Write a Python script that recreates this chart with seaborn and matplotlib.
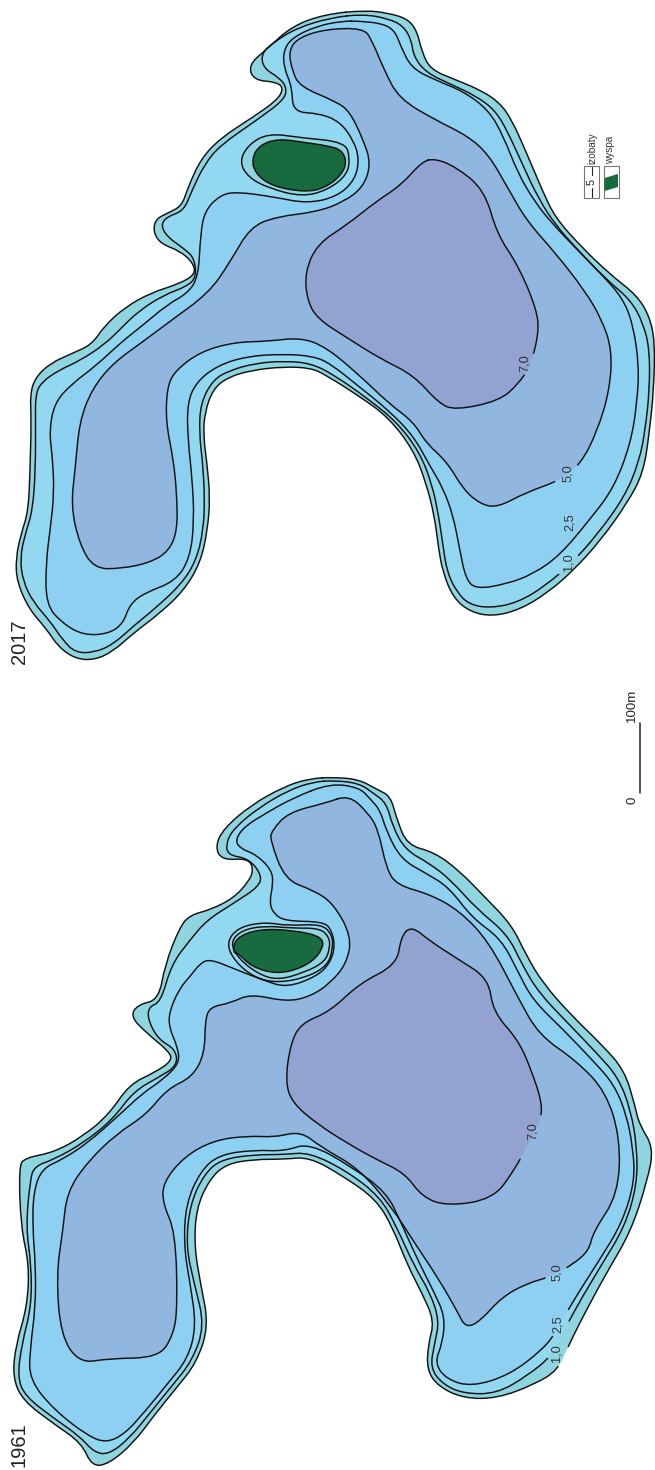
import numpy as np
import matplotlib.pyplot as plt
import seaborn as sns
from matplotlib.path import Path
from matplotlib.patches import PathPatch, Rectangle

# ==========================================
# Contours (crop units)
# ==========================================

SHORE_2017 = [(875,22),(930,28),(975,40),(998,65),(1010,110),(1030,148),(1090,170),(1150,192),(1195,218),(1225,255),(1260,325),(1300,410),(1330,465),(1390,525),(1460,585),(1525,630),(1555,675),(1568,730),(1565,830),(1555,920),(1540,1010),(1500,1075),(1440,1150),(1375,1215),(1310,1265),(1245,1300),(1180,1315),(1125,1305),(1085,1275),(1060,1220),(1050,1170),(1040,1100),(1020,1030),(990,960),(930,890),(860,845),(780,800),(745,785),(680,782),(600,790),(545,805),(510,830),(490,880),(487,930),(495,985),(503,1060),(497,1130),(480,1200),(440,1260),(380,1310),(320,1350),(270,1390),(225,1408),(180,1405),(140,1380),(110,1340),(70,1300),(40,1240),(38,1190),(50,1140),(68,1090),(72,1000),(75,900),(72,840),(85,805),(120,775),(170,755),(220,735),(250,695),(300,655),(360,625),(430,605),(468,585),(462,560),(430,535),(385,520),(367,495),(372,468),(400,455),(435,440),(450,400),(480,340),(527,295),(607,249),(663,214),(679,189),(663,175),(607,171),(595,139),(635,107),(700,55),(780,30)]
D10_2017 = [(870,30),(930,40),(965,55),(985,85),(990,120),(1020,155),(1080,180),(1140,205),(1185,235),(1215,280),(1250,350),(1290,425),(1330,480),(1385,535),(1450,595),(1510,640),(1540,690),(1555,745),(1555,830),(1545,915),(1530,985),(1495,1060),(1430,1140),(1370,1200),(1305,1250),(1240,1285),(1175,1297),(1125,1290),(1095,1265),(1070,1220),(1060,1160),(1050,1100),(1035,1035),(1005,965),(950,900),(880,850),(800,800),(745,775),(680,770),(610,775),(550,790),(510,810),(480,860),(477,925),(485,985),(490,1060),(487,1130),(470,1195),(435,1245),(375,1295),(320,1335),(270,1375),(225,1392),(180,1392),(150,1365),(120,1325),(80,1285),(55,1240),(48,1190),(60,1140),(78,1090),(85,1000),(85,900),(85,840),(100,815),(140,790),(190,770),(250,735),(290,700),(330,665),(390,630),(450,610),(470,590),(465,550),(440,530),(400,505),(385,480),(400,462),(440,450),(460,405),(490,350),(527,310),(615,256),(679,214),(687,189),(671,167),(631,146),(625,115),(655,90),(710,60),(790,38)]
D25_2017 = [(860,45),(915,50),(945,65),(960,100),(985,145),(1040,170),(1110,195),(1170,235),(1205,290),(1240,370),(1280,430),(1320,475),(1390,540),(1440,585),(1490,635),(1515,690),(1530,780),(1525,860),(1510,945),(1470,1040),(1415,1105),(1340,1185),(1275,1225),(1215,1245),(1140,1257),(1115,1235),(1100,1170),(1085,1100),(1060,1040),(1030,995),(990,930),(930,875),(860,825),(790,775),(750,760),(680,755),(590,760),(520,780),(470,815),(448,860),(450,940),(460,1020),(465,1110),(455,1190),(420,1240),(345,1265),(310,1290),(295,1330),(260,1352),(200,1355),(150,1330),(110,1290),(110,1200),(120,1130),(130,1050),(125,970),(118,920),(130,860),(170,820),(230,780),(290,730),(340,695),(400,650),(450,625),(475,590),(480,500),(490,450),(527,416),(567,409),(655,420),(734,434),(806,420),(850,384),(860,338),(846,299),(814,260),(766,242),(701,239),(699,185),(679,143),(679,107),(700,80),(760,55),(820,45)]
D50_2017 = [(870,60),(890,85),(920,150),(955,210),(1040,255),(1120,290),(1170,330),(1215,400),(1260,470),(1330,540),(1400,620),(1440,680),(1465,745),(1460,830),(1430,920),(1390,990),(1340,1025),(1260,1050),(1190,1083),(1150,1075),(1110,1045),(1070,985),(1020,945),(990,900),(930,860),(860,800),(780,740),(720,720),(640,728),(560,730),(480,750),(420,790),(400,825),(397,900),(415,980),(423,1050),(425,1130),(405,1175),(360,1200),(290,1213),(225,1213),(190,1160),(170,1080),(180,1000),(190,900),(220,830),(270,775),(340,730),(400,690),(500,625),(550,560),(599,484),(663,462),(758,452),(822,431),(870,399),(888,349),(870,299),(838,239),(806,217),(718,185),(699,150),(691,107),(715,80),(780,62)]
D70_2017 = [(1040,338),(1090,355),(1160,405),(1190,500),(1240,565),(1285,660),(1290,710),(1270,780),(1240,820),(1195,855),(1090,875),(1050,860),(990,800),(910,765),(830,720),(760,680),(735,640),(730,580),(760,520),(830,480),(900,430),(960,395),(1010,345)]
RING_2017 = [(573,345),(594,309),(642,284),(723,294),(826,303),(838,337),(831,373),(785,405),(723,420),(642,401),(594,378)]
ISLAND_2017 = [(603,337),(622,309),(666,296),(723,303),(785,311),(818,320),(830,345),(818,373),(778,401),(730,410),(650,397),(610,369)]

SHORE_1961 = [(800,90),(860,95),(900,115),(935,130),(950,180),(975,235),(1040,250),(1100,290),(1160,345),(1225,405),(1260,470),(1300,530),(1370,600),(1440,660),(1495,715),(1520,790),(1530,830),(1565,880),(1550,950),(1510,1060),(1450,1150),(1390,1250),(1360,1305),(1335,1355),(1280,1385),(1190,1415),(1110,1415),(1050,1390),(1022,1355),(1025,1300),(1040,1250),(1010,1190),(975,1130),(940,1050),(900,990),(820,940),(740,900),(680,905),(610,905),(540,915),(500,950),(470,1010),(465,1090),(480,1170),(500,1260),(470,1340),(420,1395),(370,1450),(320,1510),(260,1555),(220,1560),(195,1510),(130,1470),(55,1420),(30,1370),(38,1300),(65,1220),(70,1130),(50,1050),(45,920),(60,902),(130,890),(200,855),(260,810),(310,745),(370,720),(412,695),(405,675),(350,635),(312,600),(330,575),(380,565),(395,490),(430,410),(455,384),(503,373),(559,348),(595,313),(607,288),(595,263),(531,267),(515,238),(535,200),(600,150),(680,110),(740,93)]
D10_1961 = [(800,97),(860,103),(895,125),(925,145),(940,195),(970,245),(1030,275),(1080,310),(1140,370),(1215,425),(1250,490),(1290,550),(1360,615),(1430,680),(1480,730),(1510,800),(1525,880),(1525,960),(1495,1050),(1440,1130),(1380,1220),(1345,1280),(1320,1325),(1265,1365),(1190,1405),(1110,1405),(1060,1385),(1030,1350),(1040,1300),(1052,1250),(1030,1190),(990,1130),(950,1050),(910,985),(830,930),(740,890),(680,895),(610,895),(530,905),(490,935),(455,1000),(445,1090),(465,1170),(490,1260),(460,1335),(410,1390),(360,1445),(310,1500),(260,1535),(225,1530),(190,1495),(125,1455),(60,1410),(42,1370),(52,1300),(75,1220),(75,1130),(62,1050),(72,950),(82,920),(130,905),(200,870),(270,820),(320,760),(380,730),(425,705),(420,670),(380,650),(355,610),(355,580),(385,570),(410,490),(455,437),(495,395),(559,359),(619,324),(627,299),(595,263),(543,256),(543,224),(565,195),(620,155),(690,118),(750,100)]
D25_1961 = [(790,103),(860,112),(885,135),(910,160),(925,205),(960,265),(1020,295),(1075,325),(1130,390),(1200,435),(1240,505),(1275,565),(1350,630),(1420,695),(1470,745),(1500,810),(1515,880),(1520,950),(1490,1040),(1435,1120),(1370,1210),(1330,1275),(1300,1310),(1220,1365),(1130,1390),(1070,1375),(1040,1340),(1060,1295),(1065,1240),(1040,1190),(1000,1120),(960,1040),(925,975),(840,920),(740,870),(680,888),(610,885),(525,895),(480,930),(445,1000),(440,1090),(455,1170),(470,1260),(450,1330),(400,1385),(350,1440),(300,1490),(255,1510),(210,1495),(130,1440),(70,1375),(72,1310),(85,1220),(85,1130),(78,1050),(80,975),(100,925),(150,905),(210,870),(280,815),(340,765),(390,735),(430,700),(425,665),(405,625),(405,590),(430,540),(455,515),(479,487),(503,478),(559,498),(630,523),(686,539),(758,515),(790,487),(802,451),(794,416),(774,398),(682,397),(654,380),(645,356),(654,316),(650,288),(615,256),(575,242),(563,224),(585,195),(640,165),(700,135)]
D50_1961 = [(835,128),(880,165),(905,200),(925,285),(950,320),(1030,340),(1100,375),(1170,440),(1240,560),(1290,640),(1380,695),(1450,760),(1485,860),(1480,980),(1420,1060),(1410,1100),(1370,1130),(1320,1155),(1260,1170),(1200,1200),(1150,1250),(1115,1265),(1095,1230),(1050,1160),(990,1080),(940,1010),(860,925),(770,880),(720,845),(660,858),(590,855),(510,865),(440,900),(390,955),(390,1000),(420,1060),(425,1220),(415,1280),(380,1328),(260,1330),(190,1340),(145,1280),(135,1150),(150,1060),(160,975),(210,910),(280,850),(350,810),(400,755),(460,730),(490,680),(491,608),(503,580),(551,572),(599,552),(686,569),(742,558),(790,530),(830,487),(842,430),(798,359),(750,331),(682,309),(647,224),(650,205),(690,165),(780,145)]
D70_1961 = [(985,407),(1030,440),(1100,480),(1170,520),(1180,590),(1240,650),(1270,710),(1300,790),(1290,830),(1260,880),(1230,930),(1180,990),(1070,1005),(1010,985),(970,935),(900,905),(830,870),(760,830),(700,785),(683,740),(695,660),(720,615),(790,590),(860,530),(950,490),(960,430)]
RING_OUT_1961 = [(541,444),(570,410),(634,399),(689,407),(771,403),(795,427),(797,454),(785,491),(737,516),(666,529),(610,518),(563,484)]
RING_IN_1961 = [(551,442),(579,416),(634,407),(699,412),(766,412),(788,431),(790,454),(778,484),(730,506),(666,523),(618,510),(570,476)]
ISLAND_1961 = [(558,465),(563,433),(618,414),(699,416),(778,431),(766,469),(723,497),(663,510),(603,495),(570,465)]

DEPTH_LABELS = ["1,0", "2,5", "5,0", "7,0"]
LABELS_2017 = [(569,562), (570,522), (568,473), (525,363)]
LABELS_1961 = [(557,1353), (558,1324), (557,1272), (533,1131)]

BAR_X = [640, 640]
BAR_Y = [723, 793]

# layer colours: shore, 1.0, 2.5, 5.0, 7.0
WATER = sns.color_palette(["#8FD5E0", "#93D8F1", "#8DD0F2", "#91B7E0", "#92A3D2"])
GREEN = "#176B3E"

SCALE_X = 2.394
SCALE_Y = 2.133
FONT = "Liberation Sans"
GAP_X = 7.5
GAP_Y = 12

sns.set_theme(style="white")


def to_px(points, top):
    pts = np.array(points, dtype=float)
    return np.column_stack([pts[:, 0] / SCALE_X, pts[:, 1] / SCALE_Y + top])


def smooth_path(points):
    # quadratic segments through edge midpoints, so the traced points stay controls
    mids = (points + np.roll(points, -1, axis=0)) / 2
    verts = [mids[-1]]
    codes = [Path.MOVETO]
    for p, m in zip(points, mids):
        verts += [p, m]
        codes += [Path.CURVE3, Path.CURVE3]
    return Path(verts, codes)


def draw_layer(ax, points, face, top, labels):
    path = smooth_path(to_px(points, top))
    ax.add_patch(PathPatch(path, facecolor=face, edgecolor="none", lw=0))
    line = path.to_polygons(closed_only=False)[0].copy()
    # leave the contour open where a depth label sits on it
    for x, y in labels:
        inside = (np.abs(line[:, 0] - x) < GAP_X) & (np.abs(line[:, 1] - y) < GAP_Y)
        line[inside] = np.nan
    ax.plot(line[:, 0], line[:, 1], color="#111111", lw=1.05, solid_joinstyle="round")


def draw_lake(ax, layers, top, labels):
    for points, face in layers:
        draw_layer(ax, points, face, top, labels)
    for text, (x, y) in zip(DEPTH_LABELS, labels):
        ax.text(x, y, text, rotation=90, ha="center", va="center", fontsize=9.2, color="#333333",
                family=FONT, zorder=5)


fig, ax = plt.subplots(figsize=(6.55, 14.7), dpi=100)
fig.subplots_adjust(0, 0, 1, 1)

draw_lake(ax, [(SHORE_2017, WATER[0]), (D10_2017, WATER[1]), (D25_2017, WATER[2]), (D50_2017, WATER[3]),
               (D70_2017, WATER[4]), (RING_2017, WATER[0]), (ISLAND_2017, GREEN)], 0, LABELS_2017)
draw_lake(ax, [(SHORE_1961, WATER[0]), (D10_1961, WATER[1]), (D25_1961, WATER[2]), (D50_1961, WATER[3]),
               (D70_1961, WATER[4]), (RING_OUT_1961, WATER[1]), (RING_IN_1961, WATER[0]),
               (ISLAND_1961, GREEN)], 735, LABELS_1961)

# year labels
ax.text(19.5, 642, "2017", rotation=90, ha="center", va="center", fontsize=14.5, color="#222222", family=FONT)
ax.text(19, 1445, "1961", rotation=90, ha="center", va="center", fontsize=14.5, color="#222222", family=FONT)

# scale bar
sns.lineplot(x=BAR_X, y=BAR_Y, sort=False, estimator=None, color="#222222", lw=1.1, ax=ax, legend=False)
ax.text(632, 722, "100m", rotation=90, ha="center", va="bottom", fontsize=9.5, color="#222222", family=FONT)
ax.text(632, 800, "0", rotation=90, ha="center", va="center", fontsize=9.5, color="#222222", family=FONT)

# legend
ax.add_patch(Rectangle((584, 166), 15, 32, facecolor="white", edgecolor="#777777", lw=0.8))
ax.add_patch(Rectangle((604, 166), 14.5, 32, facecolor="white", edgecolor="#777777", lw=0.8))
sns.lineplot(x=[591.5, 591.5], y=[167, 175], sort=False, estimator=None, color="#222222", lw=0.8, ax=ax, legend=False)
sns.lineplot(x=[591.5, 591.5], y=[188, 197], sort=False, estimator=None, color="#222222", lw=0.8, ax=ax, legend=False)
ax.text(591.5, 181.5, "5", rotation=90, ha="center", va="center", fontsize=8, color="#222222", family=FONT)
ax.fill([604.5, 618, 618, 604.5], [178, 174, 187, 191], color=GREEN, lw=0)
ax.text(592, 164, "izobaty", rotation=90, ha="center", va="bottom", fontsize=7.2, color="#333333", family=FONT)
ax.text(610.5, 164, "wyspa", rotation=90, ha="center", va="bottom", fontsize=7.2, color="#333333", family=FONT)

ax.set_xlim(0, 655)
ax.set_ylim(1470, 0)
ax.axis("off")

fig.savefig("out.png", dpi=100, facecolor="white")
